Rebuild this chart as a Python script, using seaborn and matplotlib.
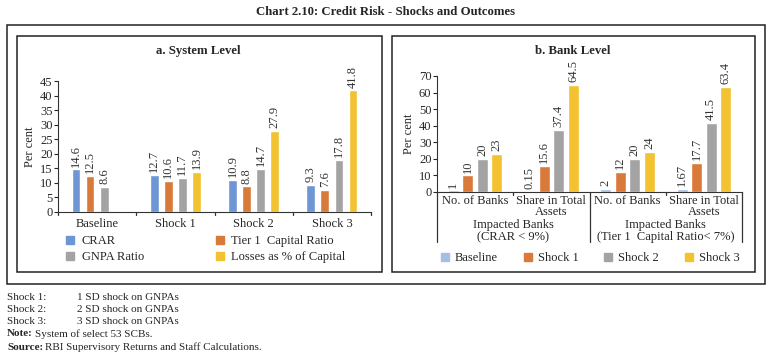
import pandas as pd
import numpy as np
import matplotlib
matplotlib.use('Agg')
import matplotlib.pyplot as plt
from matplotlib.patches import Rectangle
from matplotlib.lines import Line2D
import seaborn as sns

# Données - panneau a (niveau système)
system_cats = ['Baseline', 'Shock 1', 'Shock 2', 'Shock 3']
crar = [14.6, 12.7, 10.9, 9.3]
tier1 = [12.5, 10.6, 8.8, 7.6]
gnpa = [8.6, 11.7, 14.7, 17.8]
losses = [np.nan, 13.9, 27.9, 41.8]
system_series = ['CRAR', 'Tier 1  Capital Ratio', 'GNPA Ratio', 'Losses as % of Capital']

# Données - panneau b (niveau banque)
bank_cats = ['No. of Banks', 'Share in Total\nAssets', 'No. of Banks ', 'Share in Total\nAssets ']
bank_groups = ['Impacted Banks\n(CRAR < 9%)', 'Impacted Banks\n(Tier 1  Capital Ratio< 7%)']
baseline = [1, 0.15, 2, 1.67]
shock1 = [10, 15.6, 12, 17.7]
shock2 = [20, 37.4, 20, 41.5]
shock3 = [23, 64.5, 24, 63.4]
bank_series = ['Baseline', 'Shock 1', 'Shock 2', 'Shock 3']
bank_labels = [['1', '0.15', '2', '1.67'], ['10', '15.6', '12', '17.7'],
               ['20', '37.4', '20', '41.5'], ['23', '64.5', '24', '63.4']]

sns.set_style('white')
plt.rcParams['font.family'] = ['Liberation Serif', 'DejaVu Serif']
plt.rcParams['font.size'] = 9

W, H = 773, 360
fig = plt.figure(figsize=(W / 100, H / 100), dpi=100)


def box(x0, y0, x1, y1):
    # coordonnées en pixels (origine en haut à gauche)
    fig.patches.append(Rectangle((x0 / W, 1 - y1 / H), (x1 - x0) / W, (y1 - y0) / H,
                                 transform=fig.transFigure, fill=False,
                                 edgecolor='#222222', linewidth=1.1))


def axes_px(x0, y0, x1, y1):
    return fig.add_axes([x0 / W, 1 - y1 / H, (x1 - x0) / W, (y1 - y0) / H])


def txt(x, y, s, **kw):
    fig.text(x / W, 1 - y / H, s, **kw)


box(7, 25, 765, 284)
box(17, 36, 382, 272)
box(392, 36, 755, 272)

txt(386, 12, 'Chart 2.10: Credit Risk - Shocks and Outcomes',
    ha='center', va='center', fontsize=9.2, fontweight='bold')
txt(198, 51, 'a. System Level', ha='center', va='center', fontsize=9.2, fontweight='bold')
txt(573, 51, 'b. Bank Level', ha='center', va='center', fontsize=9.2, fontweight='bold')

# ---------- panneau a ----------
df_a = pd.DataFrame({
    'cat': system_cats * 4,
    'serie': sum([[s] * 4 for s in system_series], []),
    'val': crar + tier1 + gnpa + losses,
})
colors_a = ['#6e96d4', '#d9793a', '#a3a3a3', '#f2c230']
ax1 = axes_px(58, 81, 371, 212)
sns.barplot(data=df_a, x='cat', y='val', hue='serie', palette=colors_a,
            width=0.72, gap=0.38, ax=ax1, legend=False, saturation=1)
ax1.set_ylim(0, 45)
ax1.set_xlim(-0.5, 3.5)
ax1.set_yticks(range(0, 46, 5))
ax1.set_xticks([0, 1, 2, 3])
ax1.set_xticklabels(system_cats, fontsize=9)
ax1.tick_params(axis='x', length=0, pad=4)
ax1.tick_params(axis='y', length=3, direction='out', pad=1, labelsize=9, left=True)
ax1.set_xlabel('')
ax1.set_ylabel('Per cent', fontsize=9, labelpad=3)
for sp in ['top', 'right']:
    ax1.spines[sp].set_visible(False)
for sp in ['left', 'bottom']:
    ax1.spines[sp].set_color('#333333')
for xb in [-0.5, 0.5, 1.5, 2.5, 3.5]:
    ax1.plot([xb, xb], [0, -1.2], color='#333333', lw=0.9, clip_on=False)
for cont in ax1.containers:
    labels = ['' if np.isnan(v) else f'{v:.1f}' for v in cont.datavalues]
    ax1.bar_label(cont, labels=labels, rotation=90, padding=2, fontsize=9, color='#333333')

# légende en ordre ligne par ligne
order = [0, 2, 1, 3]
handles_a = [Line2D([], [], marker='s', ls='', color=colors_a[i], markersize=6) for i in order]
fig.legend(handles_a, [system_series[i] for i in order], ncol=2, loc='center', frameon=False,
           bbox_to_anchor=(205 / W, 1 - 249 / H), fontsize=9, handletextpad=0.4,
           columnspacing=5.6, labelspacing=0.3, handlelength=1)

# ---------- panneau b ----------
df_b = pd.DataFrame({
    'cat': bank_cats * 4,
    'serie': sum([[s] * 4 for s in bank_series], []),
    'val': baseline + shock1 + shock2 + shock3,
})
colors_b = ['#a6bde6', '#d9793a', '#a3a3a3', '#f2c230']
ax2 = axes_px(437, 76, 742, 192)
sns.barplot(data=df_b, x='cat', y='val', hue='serie', palette=colors_b,
            width=0.76, gap=0.24, ax=ax2, legend=False, saturation=1)
ax2.set_ylim(0, 70)
ax2.set_xlim(-0.5, 3.5)
ax2.set_yticks(range(0, 71, 10))
ax2.set_xticks([0, 1, 2, 3])
ax2.set_xticklabels([c.strip() for c in bank_cats], fontsize=9, linespacing=0.95)
ax2.tick_params(axis='x', length=0, pad=2)
ax2.tick_params(axis='y', length=3, direction='out', pad=1, labelsize=9, left=True)
ax2.set_xlabel('')
ax2.set_ylabel('Per cent', fontsize=9, labelpad=3)
for sp in ['top', 'right']:
    ax2.spines[sp].set_visible(False)
for sp in ['left', 'bottom']:
    ax2.spines[sp].set_color('#333333')
for xb in [0.5, 2.5]:
    ax2.plot([xb, xb], [0, -2], color='#333333', lw=0.9, clip_on=False)
for xb in [-0.5, 1.5, 3.5]:
    ax2.plot([xb, xb], [0, -30], color='#333333', lw=0.9, clip_on=False)
for cont, labs in zip(ax2.containers, bank_labels):
    ax2.bar_label(cont, labels=labs, rotation=90, padding=2, fontsize=9, color='#333333')
for i, g in enumerate(bank_groups):
    ax2.text(0.5 + 2 * i, -23.5, g, ha='center', va='center', fontsize=9,
             linespacing=1.0, clip_on=False)

handles_b = [Line2D([], [], marker='s', ls='', color=c, markersize=6) for c in colors_b]
fig.legend(handles_b, bank_series, ncol=4, loc='center', frameon=False,
           bbox_to_anchor=(589 / W, 1 - 258 / H), fontsize=9, handletextpad=0.3,
           columnspacing=1.9, handlelength=1)

# ---------- notes ----------
notes = [('Shock 1:', '1 SD shock on GNPAs'), ('Shock 2:', '2 SD shock on GNPAs'),
         ('Shock 3:', '3 SD shock on GNPAs')]
for i, (a, b) in enumerate(notes):
    y = 297 + 12.5 * i
    txt(7, y, a, fontsize=8, va='center')
    txt(77, y, b, fontsize=8, va='center')
txt(7, 334, 'Note:', fontsize=8, va='center', fontweight='bold')
txt(35, 334, 'System of select 53 SCBs.', fontsize=8, va='center')
txt(7, 347, 'Source:', fontsize=8, va='center', fontweight='bold')
txt(45, 347, 'RBI Supervisory Returns and Staff Calculations.', fontsize=8, va='center')

fig.savefig('out.png', dpi=100)
